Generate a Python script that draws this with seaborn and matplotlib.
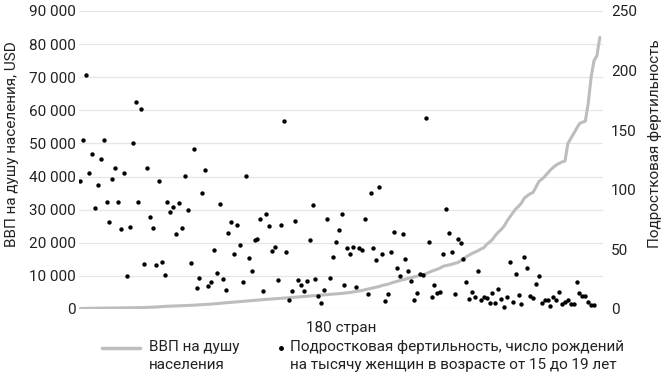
"""
Adolescent fertility vs GDP per capita, 180 countries sorted by GDP.
"""
import matplotlib
matplotlib.use("Agg")
import matplotlib.pyplot as plt
from matplotlib.lines import Line2D
from matplotlib.ticker import FuncFormatter
import pandas as pd
import seaborn as sns

# GDP per capita, USD (countries sorted ascending)
gdp_per_capita = [
    150, 180, 200, 210, 220, 230, 240, 250, 260, 270,
    280, 290, 300, 310, 320, 330, 340, 360, 380, 390,
    400, 420, 450, 480, 520, 560, 600, 650, 720, 800,
    830, 860, 890, 920, 950, 990, 1030, 1060, 1100, 1150,
    1200, 1250, 1300, 1350, 1420, 1480, 1550, 1620, 1700, 1800,
    1870, 1940, 2000, 2080, 2150, 2200, 2280, 2360, 2440, 2520,
    2600, 2680, 2750, 2820, 2900, 2960, 3020, 3080, 3140, 3200,
    3280, 3350, 3420, 3500, 3560, 3620, 3690, 3760, 3830, 3900,
    3970, 4040, 4110, 4180, 4250, 4320, 4400, 4450, 4550, 4620,
    4700, 4800, 4900, 5000, 5150, 5300, 5450, 5600, 5800, 6000,
    6200, 6400, 6600, 6800, 7100, 7300, 7500, 7800, 8100, 8300,
    8600, 8800, 9000, 9300, 9500, 9700, 9900, 10200, 10400, 10600,
    11000, 11400, 11700, 12000, 12400, 12900, 13100, 13300, 13500, 13800,
    14000, 14500, 15200, 15800, 16300, 16800, 17200, 17600, 18100, 18500,
    19500, 20200, 21000, 22200, 23200, 24000, 25000, 26500, 27800, 29000,
    30200, 31000, 32000, 33500, 34200, 34800, 35200, 36800, 38500, 39200,
    40000, 41000, 42000, 42800, 43500, 44000, 44400, 44700, 50000, 51500,
    53000, 54500, 56000, 56400, 56700, 62000, 70000, 75000, 76500, 82000,
]

# births per 1000 women aged 15-19, same country order
teen_fertility = [
    107.6, 141.6, 196.2, 114.1, 130.3, 84.7, 104.3, 125.9, 142.1, 89.7,
    72.6, 108.8, 118.3, 89.7, 67.0, 114.4, 27.5, 68.7, 139.0, 173.5,
    89.7, 167.6, 38.1, 118.3, 77.1, 68.1, 37.0, 107.4, 39.2, 28.9,
    89.7, 81.6, 85.2, 63.1, 89.1, 68.1, 111.8, 82.7, 38.4, 134.0,
    17.4, 25.8, 97.5, 116.3, 19.3, 23.0, 49.1, 30.0, 88.0, 24.9,
    16.3, 63.9, 73.2, 46.5, 70.1, 53.3, 23.0, 111.3, 42.6, 32.0,
    58.0, 58.6, 75.1, 15.4, 79.9, 69.5, 48.5, 51.9, 24.4, 70.6,
    157.8, 47.9, 7.3, 14.9, 74.0, 24.4, 20.2, 15.1, 23.8, 57.5,
    87.2, 25.2, 10.7, 5.3, 16.3, 75.7, 26.0, 43.9, 56.0, 66.3,
    79.4, 19.9, 51.4, 46.4, 52.3, 18.7, 51.4, 49.5, 75.8, 12.6,
    97.6, 51.4, 41.1, 102.1, 46.4, 6.5, 12.3, 47.8, 64.3, 34.7,
    27.7, 62.9, 42.2, 31.9, 23.7, 7.3, 13.7, 29.6, 28.5, 160.5,
    56.0, 9.8, 20.1, 13.7, 14.3, 45.9, 83.9, 63.5, 47.6, 12.6,
    58.7, 55.6, 41.7, 22.4, 8.4, 14.3, 10.3, 31.9, 7.8, 10.3,
    9.2, 4.8, 13.7, 4.8, 17.0, 8.7, 1.7, 9.8, 39.7, 5.9,
    29.4, 11.5, 3.9, 43.9, 34.4, 10.7, 9.2, 21.2, 27.9, 5.0,
    7.3, 7.3, 2.8, 10.3, 7.8, 14.5, 4.5, 5.9, 7.8, 3.9,
    4.2, 22.4, 13.4, 10.9, 10.9, 6.1, 3.1, 3.4,
]

gdp_ticks = [0, 10000, 20000, 30000, 40000, 50000, 60000, 70000, 80000, 90000]
fert_ticks = [0, 50, 100, 150, 200, 250]

GRAY = "#bdbdbd"
TEXT = "#222222"
W, H = 663, 379


def _style():
    sns.set_style("white")
    plt.rcParams.update({
        "font.family": ["Roboto", "DejaVu Sans"],
        "font.size": 11,
        "text.color": TEXT,
    })


def main():
    _style()
    gdp = pd.DataFrame({"country": range(1, len(gdp_per_capita) + 1),
                        "gdp": gdp_per_capita})
    fert = pd.DataFrame({"country": range(1, len(teen_fertility) + 1),
                         "fert": teen_fertility})

    fig = plt.figure(figsize=(W / 100, H / 100), dpi=100)
    ax = fig.add_axes([79 / W, 1 - 309 / H, (602.7 - 79) / W, 298 / H])
    ax2 = ax.twinx()

    sns.lineplot(data=gdp, x="country", y="gdp", color=GRAY,
                 linewidth=2.2, ax=ax, zorder=3)
    sns.scatterplot(data=fert, x="country", y="fert", color="black",
                    s=10, linewidth=0, ax=ax2, zorder=4)

    ax.set_xlim(0.5, 181)
    ax.set_ylim(0, 90000)
    ax2.set_ylim(0, 250)
    ax.set_yticks(gdp_ticks)
    ax2.set_yticks(fert_ticks)
    ax.yaxis.set_major_formatter(
        FuncFormatter(lambda v, _: f"{int(v):,}".replace(",", " ")))
    ax.set_xticks([])
    ax.yaxis.grid(True, color="#e6e6e6", linewidth=0.9)
    ax.set_axisbelow(True)

    for a in (ax, ax2):
        for s in a.spines.values():
            s.set_visible(False)
        a.set_xlabel("")
        a.set_ylabel("")
    ax.tick_params(axis="y", length=0, pad=2, labelsize=11, colors=TEXT)
    ax2.tick_params(axis="y", length=0, pad=6, labelsize=11, colors=TEXT)

    fig.text(12.5 / W, 1 - 144 / H, "ВВП на душу населения, USD",
             rotation=90, ha="center", va="center", fontsize=11)
    fig.text(655 / W, 1 - 144 / H, "Подростковая фертильность",
             rotation=90, ha="center", va="center", fontsize=11)
    fig.text(341 / W, 1 - 328 / H, "180 стран", ha="center",
             va="center", fontsize=11)

    # legend, handles aligned with the first text line
    fig.add_artist(Line2D([102 / W, 140 / W], [1 - 348 / H] * 2,
                          color=GRAY, linewidth=2.5,
                          transform=fig.transFigure))
    fig.text(149 / W, 1 - 340 / H, "ВВП на душу\nнаселения",
             ha="left", va="top", fontsize=11, linespacing=1.35)
    fig.add_artist(Line2D([281 / W], [1 - 348 / H], marker="o",
                          markersize=2.5, color="black", linestyle="",
                          transform=fig.transFigure))
    fig.text(290 / W, 1 - 340 / H,
             "Подростковая фертильность, число рождений\n"
             "на тысячу женщин в возрасте от 15 до 19 лет",
             ha="left", va="top", fontsize=11, linespacing=1.35)

    fig.savefig("out.png", dpi=100)
    plt.close(fig)


if __name__ == "__main__":
    main()
